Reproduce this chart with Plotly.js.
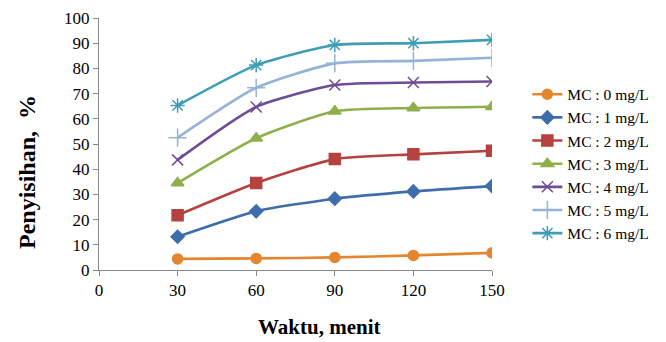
<!DOCTYPE html>
<html><head><meta charset="utf-8">
<script src="https://cdn.plot.ly/plotly-3.0.1.min.js"></script>
<style>html,body{margin:0;padding:0;background:#fff}#chart{width:666px;height:342px}</style>
</head><body><div id="chart"></div>
<script>
const waktu = [30, 60, 90, 120, 150];
const seriesNames = ["MC : 0 mg/L","MC : 1 mg/L","MC : 2 mg/L","MC : 3 mg/L","MC : 4 mg/L","MC : 5 mg/L","MC : 6 mg/L"];
const mc0 = [4.4, 4.6, 5.0, 5.8, 6.8];
const mc1 = [13.2, 23.3, 28.3, 31.2, 33.3];
const mc2 = [21.7, 34.5, 44.0, 45.9, 47.3];
const mc3 = [34.5, 52.3, 63.0, 64.3, 64.8];
const mc4 = [43.7, 64.7, 73.4, 74.4, 74.8];
const mc5 = [52.5, 72.3, 82.0, 83.0, 84.2];
const mc6 = [65.3, 81.3, 89.3, 90.0, 91.3];
const xTicks = [0, 30, 60, 90, 120, 150];
const yTicks = [0,10,20,30,40,50,60,70,80,90,100];
const xTitle = "Waktu, menit";
const yTitle = "Penyisihan,  %";

const values = [mc0, mc1, mc2, mc3, mc4, mc5, mc6];
const colors = ["#E4852F","#3F6DAA","#B5423F","#8DB04A","#6F4C96","#95B3D7","#3F9DB5"];
const symbols = ["circle","diamond","square","triangle-up","x-thin-open","cross-thin-open","asterisk-open"];
const sizes = [10, 10, 11, 11, 11, 13, 12];

const traces = values.map((v, i) => ({
  x: waktu, y: v, name: seriesNames[i], type: "scatter", mode: "lines+markers",
  line: {color: colors[i], width: 2.6, shape: "spline", smoothing: 0.6},
  marker: {symbol: symbols[i], size: sizes[i], color: colors[i], line: {color: colors[i], width: 1.5}}
}));

const font = "'Liberation Serif', 'Times New Roman', serif";
const layout = {
  width: 666, height: 342,
  margin: {l: 99, r: 172, t: 18, b: 72},
  paper_bgcolor: "#fff", plot_bgcolor: "#fff",
  font: {family: font, size: 16, color: "#000"},
  showlegend: true,
  legend: {x: 1.09, xanchor: "left", y: 0.42, yanchor: "middle", font: {family: font, size: 15.5, color: "#000"}, tracegroupgap: 0, itemwidth: 30},
  xaxis: {
    range: [0, 150], tickvals: xTicks, ticktext: xTicks.map(String),
    showgrid: false, zeroline: false, showline: true, linecolor: "#888", linewidth: 1,
    ticks: "outside", ticklen: 5, tickcolor: "#888",
    tickfont: {family: font, size: 17, color: "#000"}
  },
  yaxis: {
    range: [0, 100], tickvals: yTicks, ticktext: yTicks.map(String),
    showgrid: false, zeroline: false, showline: true, linecolor: "#888", linewidth: 1,
    ticks: "outside", ticklen: 5, tickcolor: "#888",
    tickfont: {family: font, size: 17, color: "#000"}
  },
  annotations: [
    {text: "<b>" + xTitle + "</b>", xref: "paper", yref: "paper", x: 0.56, y: -0.225, xanchor: "center", yanchor: "middle", showarrow: false, font: {family: font, size: 21, color: "#000"}},
    {text: "<b>" + yTitle + "</b>", xref: "paper", yref: "paper", x: -0.185, y: 0.39, xanchor: "center", yanchor: "middle", textangle: -90, showarrow: false, font: {family: font, size: 24, color: "#000"}}
  ]
};
Plotly.newPlot("chart", traces, layout, {displayModeBar: false, staticPlot: true});
</script></body></html>
